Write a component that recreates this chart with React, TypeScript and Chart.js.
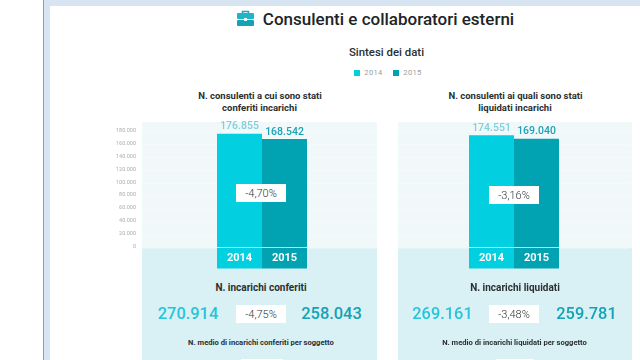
import React, { useEffect, useRef } from "react";
import { Chart, registerables } from "chart.js";
Chart.register(...registerables);

const years = ["2014", "2015"];
const conferiti = [176855, 168542];
const liquidati = [174551, 169040];
const yTicks = [0, 20000, 40000, 60000, 80000, 100000, 120000, 140000, 160000, 180000];
const barColors = ["#02cfe0", "#01a3b3"];
const labelColors = ["#7fcfdd", "#1aa2b6"];

const fmt = (v: number) => String(v).replace(/\B(?=(\d{3})+(?!\d))/g, ".");

const barExtras = {
  id: "barExtras",
  afterDatasetsDraw(chart: any) {
    const { ctx } = chart;
    chart.data.datasets.forEach((ds: any, i: number) => {
      const bar = chart.getDatasetMeta(i).data[0];
      const left = bar.x - bar.width / 2;
      const base = bar.base;
      ctx.save();
      ctx.fillStyle = barColors[i];
      ctx.fillRect(left, base, bar.width, 21);
      ctx.fillStyle = "rgba(255,255,255,0.65)";
      ctx.fillRect(left, base - 0.5, bar.width, 1);
      ctx.textAlign = "center";
      ctx.textBaseline = "middle";
      ctx.fillStyle = "#ffffff";
      ctx.font = "700 11px Roboto";
      ctx.fillText(ds.label, bar.x, base + 10.5);
      ctx.fillStyle = labelColors[i];
      ctx.font = "500 10.5px Roboto";
      ctx.fillText(fmt(ds.data[0]), bar.x, bar.y - 7);
      ctx.restore();
    });
  },
};

function BarPanel(props: {
  values: number[];
  showLabels: boolean;
  left: number;
  width: number;
  areaLeft: number;
  areaRight: number;
}) {
  const ref = useRef<HTMLCanvasElement>(null);
  useEffect(() => {
    const chart = new Chart(ref.current!, {
      type: "bar",
      data: {
        labels: ["N."],
        datasets: years.map((y, i) => ({
          label: y,
          data: [props.values[i]],
          backgroundColor: barColors[i],
          borderWidth: 0,
        })),
      },
      plugins: [barExtras],
      options: {
        animation: false,
        responsive: false,
        events: [],
        layout: {
          padding: {
            top: 21.7,
            bottom: 27,
            left: 0,
            right: props.width - props.areaRight,
          },
        },
        plugins: { legend: { display: false }, tooltip: { enabled: false }, title: { display: false } },
        datasets: {
          bar: {
            categoryPercentage: 90 / (props.areaRight - props.areaLeft),
            barPercentage: 1,
          },
        },
        scales: {
          x: { display: false },
          y: {
            display: true,
            min: 0,
            max: 180000,
            afterBuildTicks: (s: any) => {
              s.ticks = yTicks.map((value) => ({ value }));
            },
            afterFit: (s: any) => {
              s.width = props.areaLeft;
            },
            border: { display: false },
            grid: { color: "rgba(255,255,255,0.3)", tickLength: props.showLabels ? 5 : 0, lineWidth: 1 },
            ticks: {
              display: props.showLabels,
              color: "#a9adb0",
              padding: 6,
              labelOffset: -1.2,
              font: { family: "Roboto", size: 5.5 },
              callback: (v: any) => fmt(Number(v)),
            },
          },
        },
      },
    } as any);
    return () => chart.destroy();
  }, []);
  return (
    <canvas
      ref={ref}
      width={props.width}
      height={165}
      style={{ position: "absolute", left: props.left, top: 110, width: props.width, height: 165 }}
    />
  );
}

function T(p: { x: number; y: number; s: number; w?: number; c?: string; ls?: number; children: React.ReactNode }) {
  return (
    <div
      style={{
        position: "absolute",
        left: p.x,
        top: p.y,
        transform: "translate(-50%,-50%)",
        whiteSpace: "nowrap",
        fontFamily: "Roboto",
        fontSize: p.s,
        fontWeight: p.w ?? 700,
        color: p.c ?? "#23282b",
        letterSpacing: p.ls ?? 0,
        lineHeight: 1,
      }}
    >
      {p.children}
    </div>
  );
}

function Box(p: { x: number; y: number; w: number; h: number; c: string }) {
  return <div style={{ position: "absolute", left: p.x, top: p.y, width: p.w, height: p.h, background: p.c }} />;
}

function Change(p: { x: number; y: number; w?: number; text: string }) {
  return (
    <>
      <Box x={p.x} y={p.y} w={p.w ?? 50} h={18} c="#ffffff" />
      <T x={p.x + (p.w ?? 50) / 2} y={p.y + 9} s={11} w={300} c="#30363a">
        {p.text}
      </T>
    </>
  );
}

export default function App() {
  return (
    <div style={{ position: "fixed", left: 0, top: 0, width: 640, height: 360, overflow: "hidden", background: "#fff" }}>
      <Box x={43} y={0} w={1} h={360} c="#8aa2bd" />
      <Box x={44} y={0} w={596} h={360} c="#d7e5f2" />
      <Box x={50} y={6} w={590} h={354} c="#ffffff" />

      <svg style={{ position: "absolute", left: 236, top: 9 }} width={19} height={18} viewBox="0 0 19 18">
        <path d="M6.5 4.5V2.5h6v2" fill="none" stroke="#19a6b8" strokeWidth={1.5} />
        <rect x={1} y={4} width={17} height={6} rx={1} fill="#1fb5c6" />
        <rect x={1} y={11} width={17} height={6} rx={1} fill="#14a3b5" />
        <rect x={8} y={9} width={3} height={3} fill="#e8f7f9" />
      </svg>
      <T x={388.5} y={19} s={17} w={500} c="#202427">Consulenti e collaboratori esterni</T>
      <T x={386.5} y={53} s={11.4} w={500} c="#2a2f32">Sintesi dei dati</T>
      <Box x={354} y={69.5} w={6} h={6} c={barColors[0]} />
      <T x={373.5} y={72.5} s={7.5} w={400} c="#9a9da0" ls={0.4}>{years[0]}</T>
      <Box x={393} y={69.5} w={6} h={6} c={barColors[1]} />
      <T x={412.5} y={72.5} s={7.5} w={400} c="#9a9da0" ls={0.4}>{years[1]}</T>

      <T x={260} y={96} s={9.5} c="#2a2f32">N. consulenti a cui sono stati</T>
      <T x={259.5} y={108} s={9.5} c="#2a2f32">conferiti incarichi</T>
      <T x={515.5} y={96} s={9.5} c="#2a2f32">N. consulenti ai quali sono stati</T>
      <T x={515} y={108} s={9.5} c="#2a2f32">liquidati incarichi</T>

      <Box x={142} y={122} w={235} h={126} c="#f1f8fa" />
      <Box x={398} y={122} w={234} h={126} c="#f1f8fa" />
      <Box x={142} y={248} w={235} h={112} c="#d9f1f4" />
      <Box x={398} y={248} w={234} h={112} c="#d9f1f4" />

      <BarPanel values={conferiti} showLabels left={100} width={285} areaLeft={47} areaRight={277} />
      <BarPanel values={liquidati} showLabels={false} left={390} width={250} areaLeft={8} areaRight={240} />

      <Change x={236} y={184} text="-4,70%" />
      <Change x={489} y={185.5} text="-3,16%" />

      <T x={261} y={287.5} s={10} c="#2a2f32">N. incarichi conferiti</T>
      <T x={515} y={287.5} s={10} c="#2a2f32">N. incarichi liquidati</T>

      <T x={188} y={314} s={16.4} w={500} c="#25c5da">270.914</T>
      <Change x={236} y={305} text="-4,75%" />
      <T x={331.5} y={314} s={16.4} w={500} c="#12a3b5">258.043</T>
      <T x={442.5} y={314} s={16.4} w={500} c="#25c5da">269.161</T>
      <Change x={489} y={305} text="-3,48%" />
      <T x={586.5} y={314} s={16.4} w={500} c="#12a3b5">259.781</T>

      <T x={261} y={342.5} s={7.6} c="#2a2f32">N. medio di incarichi conferiti per soggetto</T>
      <T x={514.5} y={342.5} s={7.6} c="#2a2f32">N. medio di incarichi liquidati per soggetto</T>
      <Box x={241} y={359} w={42} h={1} c="#ffffff" />
      <Box x={496} y={359} w={37} h={1} c="#ffffff" />
    </div>
  );
}
